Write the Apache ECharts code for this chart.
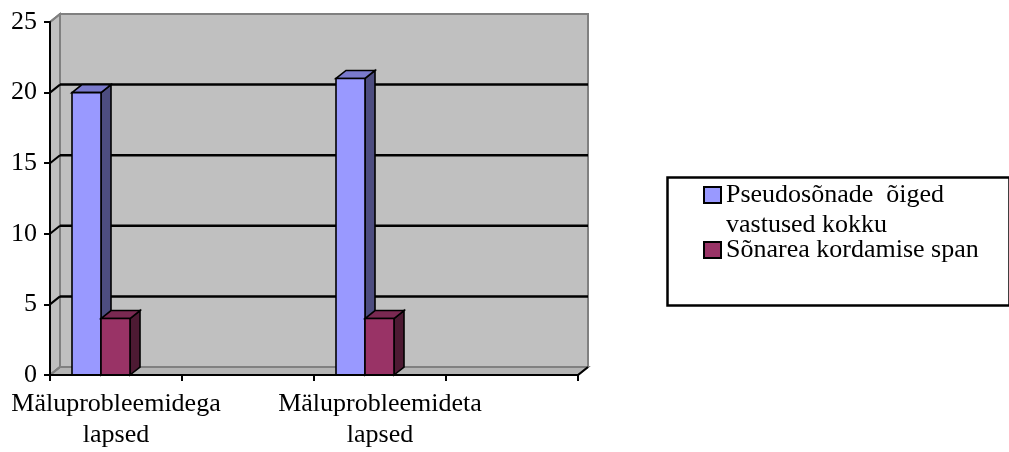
<!DOCTYPE html>
<html>
<head>
<meta charset="utf-8">
<script src="https://cdn.jsdelivr.net/npm/echarts@6/dist/echarts.min.js"></script>
<style>
  html, body { margin: 0; padding: 0; background: #ffffff; }
  #chart { width: 1009px; height: 452px; }
</style>
</head>
<body>
<div id="chart"></div>
<script>
// ---- Data ----
const categories = ["Mäluprobleemidega\nlapsed", "", "Mäluprobleemideta\nlapsed", ""];
const seriesNames = ["Pseudosõnade  õiged\nvastused kokku", "Sõnarea kordamise span"];
const pseudoValues = [20, null, 21, null];
const spanValues = [4, null, 4, null];
const yTicks = [0, 5, 10, 15, 20, 25];

// ---- Styles ----
const FONT = "'Times New Roman', 'Liberation Serif', serif";
const DX = 10, DY = -8;           // 3D depth offset
const OFFSET_FRAC = 22 / 132;     // bar group start within category slot
const BAR_FRAC = 29 / 132;        // bar width relative to slot
const palettes = [
  { front: '#9999ff', side: '#4d4d80', top: '#7a7acc' },
  { front: '#993366', side: '#4d1a33', top: '#7a2952' }
];

function toData(vals) {
  const out = [];
  vals.forEach((v, i) => { if (v != null) out.push([i, v]); });
  return out;
}

function barRenderer(idx) {
  const c = palettes[idx];
  return function (params, api) {
    const ci = api.value(0), v = api.value(1);
    const base = api.coord([ci, 0]);
    const top = api.coord([ci, v]);
    const bw = api.size([1, 0])[0];
    const w = bw * BAR_FRAC;
    const x0 = base[0] - bw / 2 + bw * OFFSET_FRAC + idx * w;
    const x1 = x0 + w;
    const y0 = top[1], yb = base[1];
    const st = (fill) => ({ fill: fill, stroke: '#000', lineWidth: 1.6, lineJoin: 'miter' });
    return {
      type: 'group',
      children: [
        { type: 'polygon', shape: { points: [[x1, yb], [x1 + DX, yb + DY], [x1 + DX, y0 + DY], [x1, y0]] }, style: st(c.side) },
        { type: 'polygon', shape: { points: [[x0, y0], [x0 + DX, y0 + DY], [x1 + DX, y0 + DY], [x1, y0]] }, style: st(c.top) },
        { type: 'rect', shape: { x: x0, y: y0, width: w, height: yb - y0 }, style: st(c.front) }
      ]
    };
  };
}

function wallRenderer(params, api) {
  const cs = params.coordSys;
  const L = cs.x, R = cs.x + cs.width, T = cs.y, B = cs.y + cs.height;
  const kids = [];
  kids.push({ type: 'rect', shape: { x: L + DX, y: T + DY, width: cs.width, height: cs.height },
    style: { fill: '#c0c0c0', stroke: '#808080', lineWidth: 2 } });
  kids.push({ type: 'polygon', shape: { points: [[L, T], [L + DX, T + DY], [L + DX, B + DY], [L, B]] },
    style: { fill: '#c0c0c0', stroke: '#808080', lineWidth: 2 } });
  kids.push({ type: 'polygon', shape: { points: [[L, B], [L + DX, B + DY], [R + DX, B + DY], [R, B]] },
    style: { fill: '#b4b4b4', stroke: '#808080', lineWidth: 2 } });
  yTicks.forEach(t => {
    const y = api.coord([0, t])[1];
    const inner = t !== yTicks[0] && t !== yTicks[yTicks.length - 1];
    if (inner) {
      kids.push({ type: 'line', shape: { x1: L + DX, y1: y + DY, x2: R + DX, y2: y + DY },
        style: { stroke: '#000', lineWidth: 2.5 } });
    }
    kids.push({ type: 'line', shape: { x1: L, y1: y, x2: L + DX, y2: y + DY },
      style: { stroke: inner ? '#000' : '#808080', lineWidth: 2 } });
  });
  kids.push({ type: 'line', shape: { x1: R, y1: B, x2: R + DX, y2: B + DY }, style: { stroke: '#000', lineWidth: 2 } });
  return { type: 'group', children: kids };
}

const legendText = { fontFamily: FONT, fontSize: 26, lineHeight: 30, color: '#000' };

const chart = echarts.init(document.getElementById('chart'));
chart.setOption({
  animation: false,
  backgroundColor: '#ffffff',
  grid: { left: 50, top: 22, width: 528, height: 353, containLabel: false },
  xAxis: {
    type: 'category',
    data: categories,
    z: 10,
    axisLine: { show: true, lineStyle: { color: '#000', width: 2 } },
    axisTick: { show: true, length: 6, lineStyle: { color: '#000', width: 2 } },
    axisLabel: { interval: 0, fontFamily: FONT, fontSize: 26, lineHeight: 31, color: '#000', margin: 14 },
    splitLine: { show: false }
  },
  yAxis: {
    type: 'value',
    min: 0, max: 25, interval: 5,
    z: 10,
    axisLine: { show: true, lineStyle: { color: '#000', width: 2 } },
    axisTick: { show: true, length: 6, lineStyle: { color: '#000', width: 2 } },
    axisLabel: { fontFamily: FONT, fontSize: 26, color: '#000', margin: 13 },
    splitLine: { show: false }
  },
  legend: [
    {
      left: 703, top: 150, padding: 0,
      itemWidth: 17, itemHeight: 16,
      icon: 'rect',
      data: [seriesNames[0]],
      formatter: (name) => ' \n' + name,
      itemStyle: { borderColor: '#000', borderWidth: 2 },
      textStyle: legendText,
      selectedMode: false
    },
    {
      left: 703, top: 235, padding: 0,
      itemWidth: 17, itemHeight: 16,
      icon: 'rect',
      data: [seriesNames[1]],
      itemStyle: { borderColor: '#000', borderWidth: 2 },
      textStyle: legendText,
      selectedMode: false
    }
  ],
  graphic: [
    { type: 'rect', left: 665, top: 175, z: 0,
      shape: { width: 342, height: 128 },
      style: { fill: 'none', stroke: '#000', lineWidth: 2.5 } }
  ],
  series: [
    { name: 'walls', type: 'custom', silent: true, z: 1, data: [[0, 0]], renderItem: wallRenderer },
    { name: seriesNames[0], type: 'custom', z: 3, data: toData(pseudoValues),
      itemStyle: { color: palettes[0].front }, encode: { x: 0, y: 1 }, renderItem: barRenderer(0) },
    { name: seriesNames[1], type: 'custom', z: 4, data: toData(spanValues),
      itemStyle: { color: palettes[1].front }, encode: { x: 0, y: 1 }, renderItem: barRenderer(1) }
  ]
});
</script>
</body>
</html>
